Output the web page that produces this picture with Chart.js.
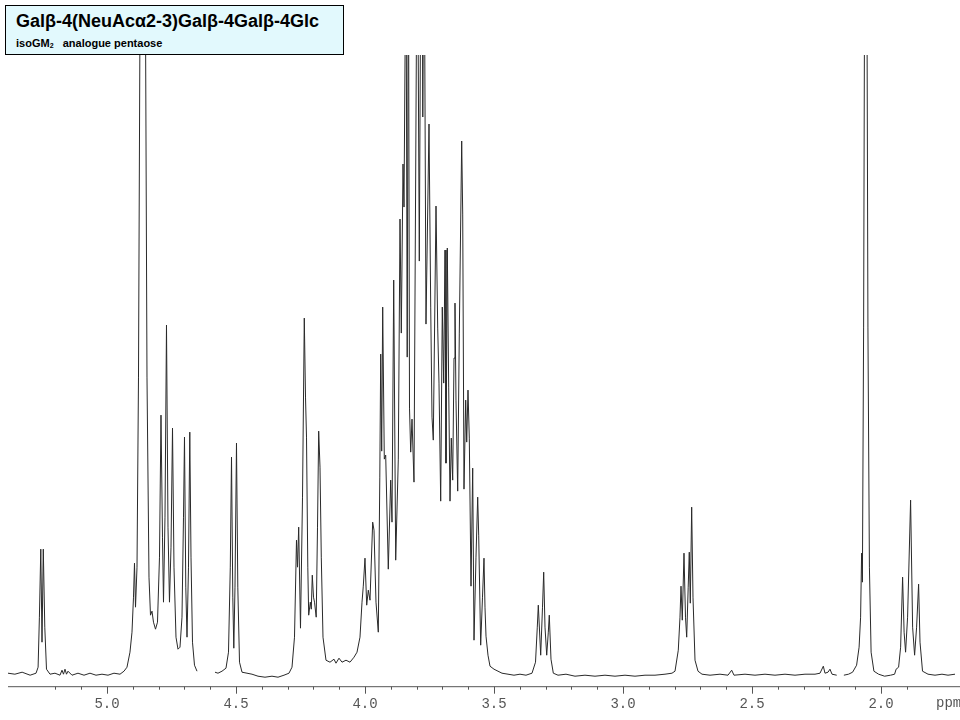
<!DOCTYPE html>
<html>
<head>
<meta charset="utf-8">
<script src="https://cdn.jsdelivr.net/npm/chart.js@4.4.0/dist/chart.umd.min.js"></script>
<style>
  body { margin: 0; background: #fff; }
  #wrap { position: relative; width: 960px; height: 720px; }
  #title {
    position: absolute; left: 5px; top: 5px; width: 337px; height: 48px;
    background: #e2f9fd; border: 1px solid #000;
    font-family: "Liberation Sans", Arial, sans-serif; font-weight: bold; color: #000;
  }
  #title .t1 { position: absolute; left: 10px; top: 5px; font-size: 18px; white-space: nowrap; }
  #title .t2 { position: absolute; left: 10px; top: 31px; font-size: 11px; white-space: nowrap; }
  #title sub { font-size: 7px; vertical-align: -1px; }
</style>
</head>
<body>
<div id="wrap">
  <canvas id="nmr" width="960" height="720"></canvas>
  <div id="title">
    <div class="t1">Galβ-4(NeuAcα2-3)Galβ-4Galβ-4Glc</div>
    <div class="t2">isoGM<sub>2</sub>&nbsp;&nbsp; analogue pentaose</div>
  </div>
</div>
<script>
// chemical shift (ppm) and intensity; null = cut region
const ppm = [
  5.3837, 5.357, 5.329, 5.298, 5.275, 5.267, 5.262, 5.2566, 5.2519, 5.2469, 5.2411, 5.2345,
  5.2209, 5.2016, 5.1822, 5.1744, 5.1686, 5.1628, 5.157, 5.1512, 5.1357, 5.1124, 5.0891,
  5.0659, 5.0426, 5.0194, 4.9961, 4.9729, 4.9496, 4.9341, 4.9225, 4.9109, 4.9031, 4.8973,
  4.8934, 4.8895, 4.8837, 4.8779, 4.8721, 4.8605, 4.8508, 4.845, 4.8372, 4.8314, 4.8256,
  4.8198, 4.812, 4.8043, 4.7965, 4.7907, 4.7849, 4.781, 4.7752, 4.7694, 4.7636, 4.7578,
  4.7519, 4.7461, 4.7403, 4.7326, 4.7248, 4.7171, 4.7093, 4.7035, 4.6996, 4.6946, 4.6899,
  4.6841, 4.6791, 4.6744, 4.6686, 4.6609, 4.6512,
  4.62,
  4.5814, 4.5698, 4.5543, 4.5388, 4.5291, 4.5221, 4.5174, 4.5124, 4.5085, 4.5039, 4.4981,
  4.493, 4.4864, 4.4767, 4.4574, 4.438, 4.4147, 4.3876, 4.3605, 4.3372, 4.314, 4.2946,
  4.2829, 4.2733, 4.2655, 4.2616, 4.257, 4.25, 4.2422, 4.2353, 4.2306, 4.2267, 4.2217,
  4.2182, 4.212, 4.2081, 4.2043, 4.1996, 4.1957, 4.1891, 4.1841, 4.1795, 4.1744, 4.1694,
  4.1628, 4.1512, 4.1357, 4.1202, 4.1124, 4.1008, 4.0891, 4.0736, 4.0581, 4.0426, 4.031,
  4.0194, 4.0116, 4.0066, 4.0, 3.9934, 3.9872, 3.9806, 3.9702, 3.9651, 3.9574, 3.9484,
  3.9426, 3.9391, 3.9353, 3.9314, 3.9252, 3.9198, 3.9097, 3.9004, 3.8953, 3.8887, 3.881,
  3.8709, 3.8643, 3.8593, 3.8527, 3.8488, 3.8411, 3.8364, 3.8318, 3.8275, 3.8229, 3.8178,
  3.8101, 3.7973, 3.7895, 3.7803, 3.776, 3.7713, 3.7636, 3.7519, 3.7453, 3.7403, 3.7353,
  3.7248, 3.7182, 3.7132, 3.7066, 3.7004, 3.695, 3.6899, 3.6861, 3.681, 3.6756, 3.6705,
  3.6655, 3.6601, 3.655, 3.6512, 3.6473, 3.6407, 3.6345, 3.6252, 3.6213, 3.6163, 3.6097,
  3.6058, 3.6008, 3.5957, 3.5891, 3.5826, 3.5775, 3.5698, 3.5632, 3.5593, 3.5516, 3.5446,
  3.5388, 3.5349, 3.531, 3.5233, 3.5155, 3.5, 3.4845, 3.469, 3.4457, 3.4225, 3.3992, 3.376,
  3.3527, 3.3391, 3.3322, 3.3283, 3.319, 3.312, 3.3074, 3.3023, 3.2957, 3.2895, 3.2857,
  3.2791, 3.2701, 3.2519, 3.2209, 3.186, 3.1473, 3.1085, 3.0698, 3.031, 2.9922, 2.9535,
  2.9147, 2.876, 2.8372, 2.8101, 2.7984, 2.7857, 2.7791, 2.7752, 2.7702, 2.7636, 2.7578,
  2.7531, 2.7473, 2.7431, 2.7392, 2.7338, 2.7287, 2.7209, 2.7093, 2.6938, 2.6628, 2.624,
  2.593, 2.5788, 2.5698, 2.5271, 2.4884, 2.4496, 2.4109, 2.3721, 2.3333, 2.2946, 2.2558,
  2.2364, 2.2236, 2.2171, 2.2054, 2.1977, 2.1899, 2.1717,
  2.158,
  2.1439, 2.1258, 2.1101, 2.0946, 2.0849, 2.0791, 2.0752, 2.0721, 2.0674, 2.0636, 2.0597,
  2.0546, 2.0507, 2.0449, 2.0384, 2.0275, 2.0093, 1.986, 1.9628, 1.9473, 1.9415, 1.9318,
  1.924, 1.9163, 1.9105, 1.9047, 1.897, 1.8853, 1.8775, 1.8698, 1.862, 1.8543, 1.8488,
  1.8391, 1.8178, 1.7907, 1.7636, 1.7403, 1.7132
];
const intensity = [
  4, 3, 5, 2, 4, 10, 60, 128, 35, 128, 50, 8,
  3, 4, 2, 7, 3, 8, 3, 6, 2, 4, 2,
  4, 2, 3, 2, 4, 3, 6, 10, 25, 45, 80,
  114, 70, 110, 300, 660, 1400, 660, 300, 100, 62, 66,
  55, 48, 55, 120, 262, 140, 75, 160, 352, 150, 75,
  130, 249, 110, 40, 28, 30, 60, 160, 240, 90, 40,
  110, 245, 120, 35, 12, 6,
  null,
  5, 4, 6, 9, 25, 110, 220, 80, 29, 90, 234,
  90, 15, 5, 4, 3, 1, 0, 1, 0, 2, 4,
  10, 40, 137, 110, 150, 49, 180, 359, 280, 240, 110,
  62, 75, 68, 102, 80, 75, 60, 150, 246, 210, 120,
  40, 17, 15, 18, 14, 19, 15, 17, 15, 20, 25,
  40, 75, 91, 119, 72, 87, 77, 155, 147, 75, 45,
  200, 323, 226, 370, 218, 222, 108, 197, 155, 397, 117,
  218, 458, 344, 513, 470, 760, 320, 760, 269, 225, 258,
  195, 800, 416, 900, 560, 800, 353, 553, 370, 260, 237,
  471, 349, 294, 176, 370, 294, 427, 214, 429, 290, 176,
  239, 197, 319, 374, 277, 186, 344, 536, 463, 188, 277,
  235, 287, 239, 91, 209, 37, 120, 180, 142, 32, 80,
  119, 70, 41, 22, 11, 8, 6, 4, 3, 2, 3, 2,
  4, 15, 50, 72, 22, 70, 105, 50, 22, 45, 62,
  18, 4, 2, 3, 1, 2, 1, 2, 1, 2, 1,
  2, 2, 3, 4, 6, 27, 60, 91, 57, 124, 60,
  40, 90, 125, 74, 170, 80, 17, 6, 3, 2, 3,
  2, 7, 2, 3, 2, 3, 2, 3, 2, 3, 3,
  4, 11, 4, 5, 8, 3, 2,
  null,
  2, 3, 5, 12, 30, 60, 124, 95, 350, 700, 1200,
  700, 350, 110, 25, 6, 3, 1, 2, 3, 8, 10,
  30, 100, 45, 25, 60, 177, 50, 22, 50, 93, 35,
  6, 3, 2, 3, 2, 3
];
const majorTicks = [5.0, 4.5, 4.0, 3.5, 3.0, 2.5, 2.0];
const ppmMin = 1.7132, ppmMax = 5.3837;

const isMajor = v => majorTicks.some(m => Math.abs(m - v) < 1e-6);
const isMinor = v => Math.abs(v * 10 - Math.round(v * 10)) < 1e-6;

const axisPlugin = {
  id: 'nmrAxis',
  afterDraw(chart) {
    const { ctx, chartArea } = chart;
    const xs = chart.scales.x;
    const y0 = chartArea.bottom + 0.5;
    ctx.save();
    ctx.strokeStyle = '#555';
    ctx.lineWidth = 1;
    ctx.beginPath();
    ctx.moveTo(chartArea.left, y0);
    ctx.lineTo(chart.width, y0);
    xs.ticks.forEach(t => {
      if (!isMinor(t.value)) return;
      const px = Math.round(xs.getPixelForValue(t.value)) + 0.5;
      ctx.moveTo(px, y0);
      ctx.lineTo(px, y0 + (isMajor(t.value) ? 7 : 3));
    });
    ctx.stroke();
    ctx.fillStyle = '#555';
    ctx.font = '14px "Liberation Mono", "Courier New", monospace';
    ctx.textBaseline = 'top';
    ctx.fillText('ppm', 936, chartArea.bottom + 10);
    ctx.restore();
  }
};

new Chart(document.getElementById('nmr'), {
  type: 'line',
  data: {
    datasets: [{
      data: ppm.map((p, i) => ({ x: p, y: intensity[i] })),
      borderColor: '#2a2a2a',
      borderWidth: 1,
      pointRadius: 0,
      tension: 0,
      spanGaps: false,
      fill: false
    }]
  },
  options: {
    responsive: false,
    animation: false,
    events: [],
    layout: { padding: { left: 8, right: 5, top: 55, bottom: 4 } },
    plugins: { legend: { display: false }, tooltip: { enabled: false } },
    scales: {
      x: {
        type: 'linear',
        reverse: true,
        min: ppmMin,
        max: ppmMax,
        grid: { display: true, drawOnChartArea: false, tickLength: 7, color: 'rgba(0,0,0,0)' },
        border: { display: false },
        ticks: {
          stepSize: 0.1,
          autoSkip: false,
          maxRotation: 0,
          padding: 3,
          color: '#555',
          font: { family: '"Liberation Mono", "Courier New", monospace', size: 14 },
          callback: v => isMajor(v) ? v.toFixed(1) : ''
        }
      },
      y: { display: false, min: -9, max: 622 }
    }
  },
  plugins: [axisPlugin]
});
</script>
</body>
</html>
